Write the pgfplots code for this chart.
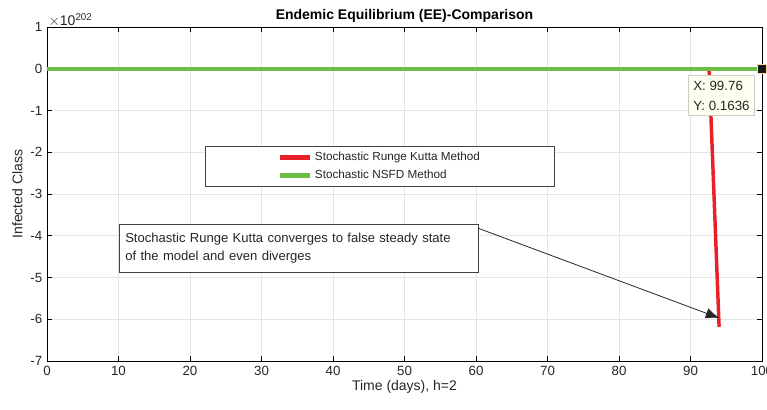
\documentclass[border=0pt]{standalone}
\usepackage{fontspec}
\setmainfont{Liberation Sans}
\usepackage{pgfplots}
\pgfplotsset{compat=1.18}
\usetikzlibrary{arrows.meta}
\definecolor{rkred}{RGB}{232,32,42}
\definecolor{nsfdgreen}{RGB}{110,190,70}
\definecolor{tipbg}{RGB}{255,255,240}
\begin{document}
\begin{tikzpicture}
\useasboundingbox (-35.25pt,-36.75pt) rectangle (540pt,270.75pt);
\begin{axis}[
  scale only axis,
  width=536.25pt, height=250.5pt,
  xmin=0, xmax=100, ymin=-7, ymax=1,
  xtick={0,10,...,100}, ytick={-7,-6,...,1},
  tick align=inside,
  major tick length=4pt,
  grid=major,
  grid style={gray!20, line width=0.5pt},
  axis line style={black, line width=0.6pt},
  tick style={black, line width=0.6pt},
  /pgf/number format/assume math mode=true,
  ticklabel style={font=\fontsize{10}{11}\selectfont, text=black!85},
  title={\bfseries Endemic Equilibrium (EE)-Comparison},
  title style={font=\fontsize{10.5}{12}\selectfont, yshift=-6pt},
  xlabel={Time (days), h=2},
  ylabel={Infected Class},
  label style={font=\fontsize{10.5}{12}\selectfont, text=black!85},
  xlabel style={yshift=3pt},
  ylabel style={yshift=-1pt},
  legend style={at={(axis cs:22.1,-1.85)}, anchor=north west,
     draw=black!75, fill=white, inner xsep=54pt, inner ysep=2.5pt,
     font=\fontsize{8.8}{10}\selectfont, row sep=1.5pt, text=black!85},
  legend cell align=left,
  legend image code/.code={\draw[#1, line width=3.5pt] (0cm,0cm) -- (0.8cm,0cm);},
  clip=false,
]
\addplot[rkred, line width=2.6pt, forget plot] coordinates {(0,0) (92.6,0) (94,-6.18)};
\addlegendimage{rkred}
\addlegendentry{Stochastic Runge Kutta Method}
\addplot[nsfdgreen, line width=2.8pt] coordinates {(0,0) (10,0) (20,0) (30,0) (40,0) (50,0) (60,0) (70,0) (80,0) (90,0) (100,0)};
\addlegendentry{Stochastic NSFD Method}
\addplot[only marks, mark=square*, mark size=3.4pt, mark options={fill=black!90, draw=tipbg!70!orange, line width=0.5pt}, forget plot] coordinates {(100,0)};
\node[draw=black!20, fill=tipbg, anchor=north west, align=left, inner xsep=3.5pt, inner ysep=4pt,
  font=\fontsize{10}{15}\selectfont, text=black!85, line width=0.9pt]
  at (axis cs:89.65,-0.15) {X: 99.76\\Y: 0.1636};
\node[draw=black!75, fill=white, anchor=north west, align=left,
  text width=260pt, minimum height=36pt, inner xsep=4.5pt, inner ysep=4pt,
  font=\fontsize{9.8}{13.5}\selectfont, text=black!85]
  (ann) at (axis cs:10.07,-3.72) {Stochastic Runge Kutta converges to false steady state\\of the model and even diverges};
\draw[-{Latex[length=10pt,width=8pt]}, black!85, line width=0.6pt] (axis cs:60.3,-3.82) -- (axis cs:94.0,-5.97);
\node[anchor=south west, inner sep=0pt, font=\fontsize{10.5}{12}\selectfont, text=black!85] at (rel axis cs:0,1) {\kern1pt$\times$10\textsuperscript{202}};
\end{axis}
\end{tikzpicture}
\end{document}
